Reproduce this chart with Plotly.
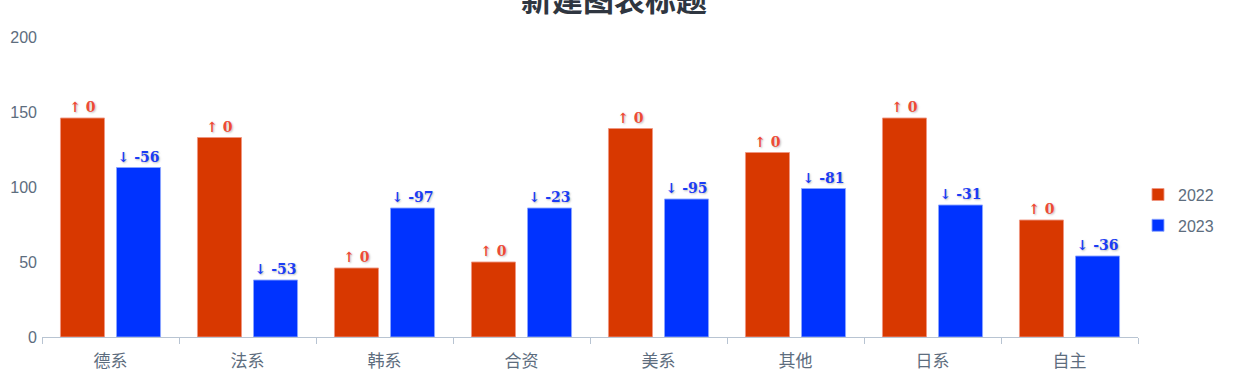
import plotly.graph_objects as go

categories = ["德系", "法系", "韩系", "合资", "美系", "其他", "日系", "自主"]
values_2022 = [146, 133, 46, 50, 139, 123, 146, 78]
values_2023 = [113, 38, 86, 86, 92, 99, 88, 54]
labels_2022 = ["↑ 0", "↑ 0", "↑ 0", "↑ 0", "↑ 0", "↑ 0", "↑ 0", "↑ 0"]
labels_2023 = ["↓ -56", "↓ -53", "↓ -97", "↓ -23", "↓ -95", "↓ -81", "↓ -31", "↓ -36"]
y_ticks = [0, 50, 100, 150, 200]

label_font = dict(family="DejaVu Serif", size=14, weight="bold",
                  shadow="1px 1px 2px rgba(150,150,150,0.6)")

fig = go.Figure()
fig.add_trace(go.Bar(
    name="2022", x=categories, y=values_2022, legendgroup="g2022",
    marker=dict(color="#d83800", line=dict(color="rgba(240,150,130,0.9)", width=1)),
    text=labels_2022, textposition="outside", cliponaxis=False,
    textfont=dict(color="#ee4a35", **label_font),
))
fig.add_trace(go.Bar(
    name="2023", x=categories, y=values_2023, legendgroup="g2023",
    marker=dict(color="#0033ff", line=dict(color="rgba(140,165,255,0.9)", width=1)),
    text=labels_2023, textposition="outside", cliponaxis=False,
    textfont=dict(color="#1a3cf5", **label_font),
))

fig.update_layout(
    width=1253, height=389,
    margin=dict(l=42, r=115, t=37, b=52, autoexpand=False),
    paper_bgcolor="white", plot_bgcolor="white",
    bargap=0.182, bargroupgap=0.214,
    font=dict(family="Liberation Sans, Noto Sans CJK SC", color="#5d6d7e"),
    title=dict(text="<b>新建图表标题</b>", x=0.49, xref="container", xanchor="center",
               y=1.0, yref="container", yanchor="middle",
               font=dict(size=31, color="#2f3640", family="Noto Sans CJK SC")),
    legend=dict(x=1.0, xanchor="left", y=0.423, yanchor="middle",
                font=dict(size=16, color="#5d6d7e"), itemwidth=30,
                tracegroupgap=7),
    showlegend=True,
)
fig.update_xaxes(
    showline=True, linecolor="#b8c4d2", linewidth=1,
    ticks="outside", tickson="boundaries", ticklen=6, tickcolor="#b8c4d2",
    tickfont=dict(size=17, color="#5d6d7e", family="Noto Sans CJK SC"),
    ticklabelstandoff=9,
    showgrid=False, automargin=False,
)
fig.update_yaxes(
    range=[0, 200], tickvals=y_ticks, showgrid=False, showline=False,
    zeroline=False, tickfont=dict(size=16, color="#5d6d7e"), ticks="",
    ticklabelstandoff=4, automargin=False,
)

fig.write_html("out.html", config={"displayModeBar": False},
               post_script="document.body.style.margin='0';")
